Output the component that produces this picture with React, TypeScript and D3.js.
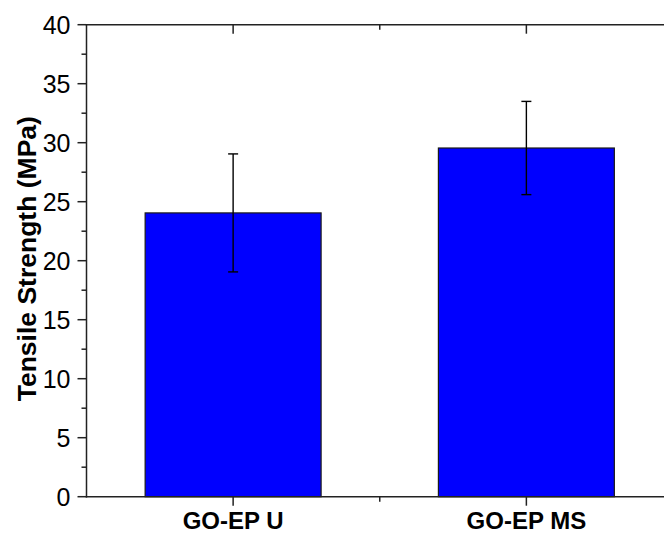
import React from "react";
import * as d3 from "d3";

const categories = ["GO-EP U", "GO-EP MS"];
const strengths = [24.05, 29.55];
const errors = [5.0, 3.95];
const yTicks = [0, 5, 10, 15, 20, 25, 30, 35, 40];
const yMinorTicks = [2.5, 7.5, 12.5, 17.5, 22.5, 27.5, 32.5, 37.5];
const yLabel = "Tensile Strength (MPa)";

const W = 664;
const H = 533;

export default function App() {
  const x = d3.scaleLinear().domain([0.5, 2.5]).range([86.5, 673]);
  const y = d3.scaleLinear().domain([0, 40]).range([496.7, 24.7]);
  const barHalf = 0.3;
  const axisColor = "#222";
  const font = "'Liberation Sans', Arial, sans-serif";
  const x0 = x(0.5);
  const x1 = x(2.5);
  const yb = y(0);
  const yt = y(40);
  const catPos = categories.map((_, i) => i + 1);
  const catMinor = [1.5];

  return (
    <svg
      width={W}
      height={H}
      style={{ position: "absolute", left: 0, top: 0, background: "#fff" }}
    >
      <rect x={0} y={0} width={W} height={H} fill="#fff" />
      {strengths.map((v, i) => (
        <rect
          key={"b" + i}
          x={x(catPos[i] - barHalf)}
          y={y(v)}
          width={x(catPos[i] + barHalf) - x(catPos[i] - barHalf)}
          height={y(0) - y(v)}
          fill="#0000ff"
          stroke="#1a1a1a"
          strokeWidth={1.2}
        />
      ))}
      {strengths.map((v, i) => {
        const cx = x(catPos[i]);
        return (
          <g key={"e" + i} stroke="#000" strokeWidth={1.4}>
            <line x1={cx} x2={cx} y1={y(v + errors[i])} y2={y(v - errors[i])} />
            <line x1={cx - 5} x2={cx + 5} y1={y(v + errors[i])} y2={y(v + errors[i])} />
            <line x1={cx - 5} x2={cx + 5} y1={y(v - errors[i])} y2={y(v - errors[i])} />
          </g>
        );
      })}
      <g stroke={axisColor} strokeWidth={1.5} fill="none">
        <line x1={x0} x2={x0} y1={yt} y2={yb + 0.75} />
        <line x1={x1} x2={x1} y1={yt} y2={yb} />
        <line x1={x0 - 0.75} x2={x1} y1={yb} y2={yb} />
        <line x1={x0 - 0.75} x2={x1} y1={yt} y2={yt} />
        {yTicks.map((t) => (
          <line key={"lt" + t} x1={x0 - 9} x2={x0} y1={y(t)} y2={y(t)} />
        ))}
        {yMinorTicks.map((t) => (
          <line key={"lm" + t} x1={x0 - 5} x2={x0} y1={y(t)} y2={y(t)} />
        ))}
        {yTicks.map((t) => (
          <line key={"rt" + t} x1={x1 - 9} x2={x1} y1={y(t)} y2={y(t)} />
        ))}
        {yMinorTicks.map((t) => (
          <line key={"rm" + t} x1={x1 - 5} x2={x1} y1={y(t)} y2={y(t)} />
        ))}
        {catPos.map((c) => (
          <line key={"bt" + c} x1={x(c)} x2={x(c)} y1={yb} y2={yb + 9} />
        ))}
        {catMinor.map((c) => (
          <line key={"bm" + c} x1={x(c)} x2={x(c)} y1={yb} y2={yb + 5} />
        ))}
        {catPos.map((c) => (
          <line key={"tt" + c} x1={x(c)} x2={x(c)} y1={yt} y2={yt + 9} />
        ))}
        {catMinor.map((c) => (
          <line key={"tm" + c} x1={x(c)} x2={x(c)} y1={yt} y2={yt + 5} />
        ))}
      </g>
      {yTicks.map((t) => (
        <text
          key={"yl" + t}
          x={x0 - 16}
          y={y(t)}
          dy="0.36em"
          textAnchor="end"
          fontFamily={font}
          fontSize={25}
          fill="#000"
        >
          {t}
        </text>
      ))}
      {categories.map((c, i) => (
        <text
          key={"xl" + i}
          x={x(catPos[i])}
          y={529}
          textAnchor="middle"
          fontFamily={font}
          fontSize={24}
          fontWeight="bold"
          fill="#000"
        >
          {c}
        </text>
      ))}
      <text
        transform={`translate(36, ${(yt + yb) / 2 - 2}) rotate(-90)`}
        textAnchor="middle"
        fontFamily={font}
        fontSize={26.5}
        fontWeight="bold"
        fill="#000"
      >
        {yLabel}
      </text>
    </svg>
  );
}
